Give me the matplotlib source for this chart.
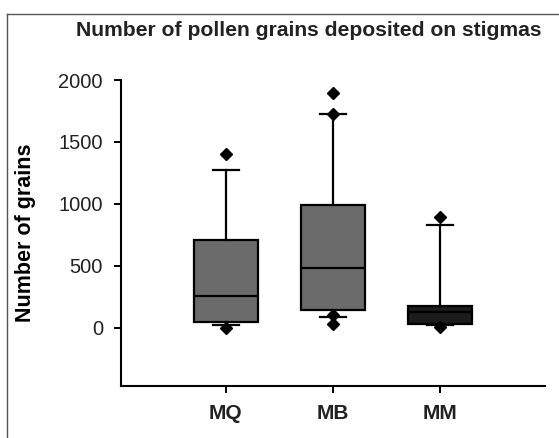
import matplotlib.pyplot as plt
from matplotlib.lines import Line2D

plt.rcParams['font.family'] = ['Liberation Sans', 'DejaVu Sans']

# box summaries
groups = ['MQ', 'MB', 'MM']
q1 = [48, 145, 32]
medians = [258, 484, 125]
q3 = [710, 992, 177]
whisk_lo = [24, 89, 22]
whisk_hi = [1274, 1726, 830]
fliers = [[1403, 2], [1895, 1726, 100, 28], [895, 8]]
fill_colors = ['#6b6b6b', '#6b6b6b', '#1c1c1c']
yticks = [0, 500, 1000, 1500, 2000]

stats = []
for i, g in enumerate(groups):
    stats.append(dict(label=g, q1=q1[i], med=medians[i], q3=q3[i],
                      whislo=whisk_lo[i], whishi=whisk_hi[i], fliers=fliers[i]))

fig = plt.figure(figsize=(5.59, 4.38), dpi=100)
ax = fig.add_axes([121 / 559, 1 - 386 / 438, (545 - 121) / 559, (386 - 80) / 438])

bp = ax.bxp(stats, positions=[1, 2, 3], widths=0.6, patch_artist=True,
            capwidths=0.24,
            boxprops=dict(edgecolor='black', linewidth=1.6),
            medianprops=dict(color='black', linewidth=1.6),
            whiskerprops=dict(color='black', linewidth=1.6),
            capprops=dict(color='black', linewidth=1.6),
            flierprops=dict(marker='D', markerfacecolor='black',
                            markeredgecolor='black', markersize=6.5))
for patch, c in zip(bp['boxes'], fill_colors):
    patch.set_facecolor(c)

ax.set_xlim(0.02, 3.98)
ax.set_ylim(-470, 2000)
ax.set_yticks(yticks)
ax.set_yticklabels([str(v) for v in yticks], fontsize=14.5, color='#222222')
ax.set_xticks([1, 2, 3])
ax.set_xticklabels(groups, fontsize=15, fontweight='bold', color='#222222')
ax.tick_params(axis='both', direction='out', length=5, width=1.4)
ax.tick_params(axis='y', pad=8)
ax.tick_params(axis='x', pad=8)
for s in ['top', 'right']:
    ax.spines[s].set_visible(False)
for s in ['left', 'bottom']:
    ax.spines[s].set_linewidth(1.5)

ax.set_ylabel('Number of grains', fontsize=15.5, fontweight='bold')
ax.yaxis.set_label_coords(-0.2, 0.5)

fig.text(76 / 559, 1 - 31 / 438, 'Number of pollen grains deposited on stigmas',
         fontsize=15.2, fontweight='bold', ha='left', va='center', color='#222222')

# outer frame of the original figure
fig.add_artist(Line2D([7 / 559, 7 / 559], [0, 1 - 14 / 438], color='#555555', lw=1))
fig.add_artist(Line2D([7 / 559, 1], [1 - 14 / 438, 1 - 14 / 438], color='#555555', lw=1))

fig.savefig('out.png', dpi=100)
